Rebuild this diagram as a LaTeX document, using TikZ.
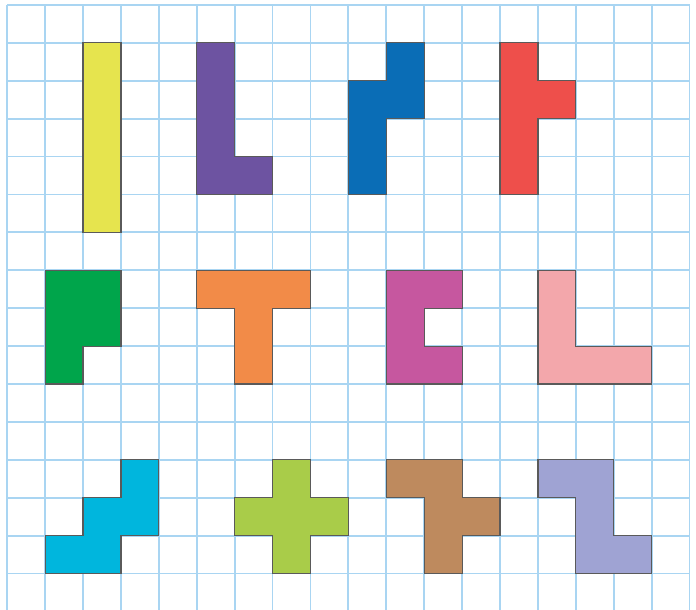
\documentclass[tikz,border=0pt]{standalone}
\usepackage{tikz}
\definecolor{GridBlue}{HTML}{A9D5F2}
\definecolor{EdgeGray}{HTML}{5A5A5A}
\definecolor{TileYellow}{HTML}{E6E44E}
\definecolor{TilePurple}{HTML}{6D53A1}
\definecolor{TileBlue}{HTML}{0A6DB6}
\definecolor{TileRed}{HTML}{EE4F4B}
\definecolor{TileGreen}{HTML}{00A54B}
\definecolor{TileOrange}{HTML}{F28B48}
\definecolor{TileMagenta}{HTML}{C6579F}
\definecolor{TilePink}{HTML}{F3A7AB}
\definecolor{TileCyan}{HTML}{00B6DD}
\definecolor{TileLime}{HTML}{A9CC49}
\definecolor{TileBrown}{HTML}{BE8A5E}
\definecolor{TileLavender}{HTML}{9FA3D3}

\begin{document}
\begin{tikzpicture}[x=1cm,y=-1cm,
    gridline/.style={GridBlue,line width=1.4pt},
    tile/.style={draw=EdgeGray,line width=0.9pt,line join=miter}]
    \useasboundingbox[fill=white] (-0.19,-0.13) rectangle (18.17,15.96);
    \draw[gridline] (0,0) grid (18,16);
    \filldraw[tile,fill=TileYellow] (2,1) rectangle (3,6);
    \filldraw[tile,fill=TilePurple] (5,1)--(6,1)--(6,4)--(7,4)--(7,5)--(5,5)--cycle;
    \filldraw[tile,fill=TileBlue] (10,1)--(11,1)--(11,3)--(10,3)--(10,5)--(9,5)--(9,2)--(10,2)--cycle;
    \filldraw[tile,fill=TileRed] (13,1)--(14,1)--(14,2)--(15,2)--(15,3)--(14,3)--(14,5)--(13,5)--cycle;
    \filldraw[tile,fill=TileGreen] (1,7)--(3,7)--(3,9)--(2,9)--(2,10)--(1,10)--cycle;
    \filldraw[tile,fill=TileOrange] (5,7)--(8,7)--(8,8)--(7,8)--(7,10)--(6,10)--(6,8)--(5,8)--cycle;
    \filldraw[tile,fill=TileMagenta] (10,7)--(12,7)--(12,8)--(11,8)--(11,9)--(12,9)--(12,10)--(10,10)--cycle;
    \filldraw[tile,fill=TilePink] (14,7)--(15,7)--(15,9)--(17,9)--(17,10)--(14,10)--cycle;
    \filldraw[tile,fill=TileCyan] (3,12)--(4,12)--(4,14)--(3,14)--(3,15)--(1,15)--(1,14)--(2,14)--(2,13)--(3,13)--cycle;
    \filldraw[tile,fill=TileLime] (7,12)--(8,12)--(8,13)--(9,13)--(9,14)--(8,14)--(8,15)--(7,15)--(7,14)--(6,14)--(6,13)--(7,13)--cycle;
    \filldraw[tile,fill=TileBrown] (10,12)--(12,12)--(12,13)--(13,13)--(13,14)--(12,14)--(12,15)--(11,15)--(11,13)--(10,13)--cycle;
    \filldraw[tile,fill=TileLavender] (14,12)--(16,12)--(16,14)--(17,14)--(17,15)--(15,15)--(15,13)--(14,13)--cycle;
\end{tikzpicture}
\end{document}
